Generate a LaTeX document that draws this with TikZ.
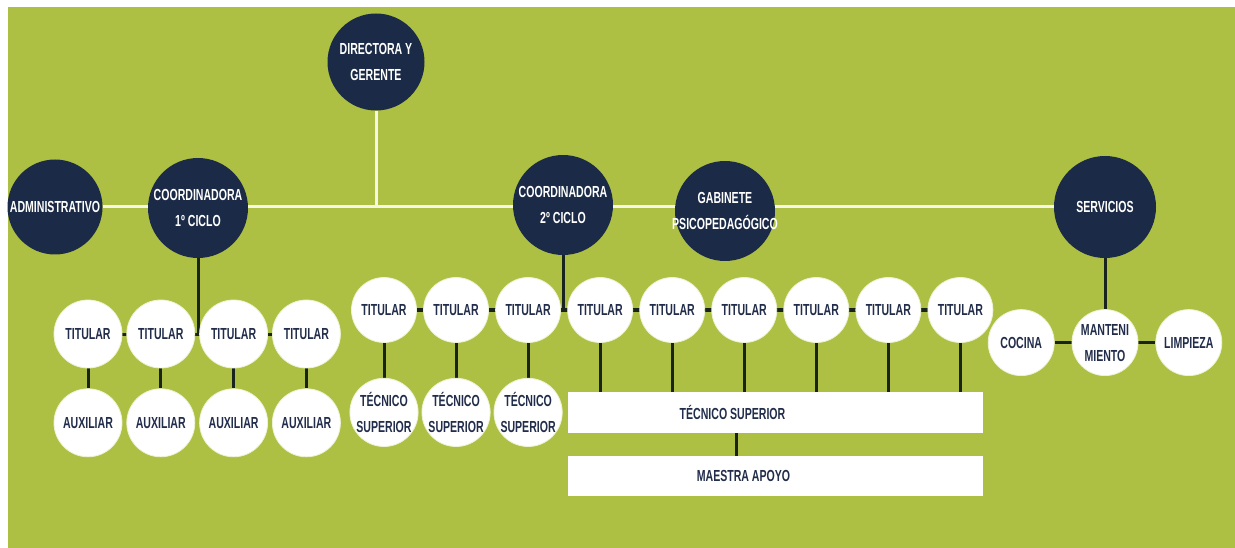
\documentclass[tikz,border=0pt]{standalone}
\usepackage{fontspec}
\setmainfont{Liberation Sans}[FakeStretch=0.66]
\definecolor{colorField}{RGB}{173,192,67}
\definecolor{colorHead}{RGB}{27,43,71}
\definecolor{colorInk}{RGB}{33,45,74}
\definecolor{colorWire}{RGB}{26,36,30}
\definecolor{colorLink}{RGB}{246,246,228}
\definecolor{colorRim}{RGB}{238,242,212}
\usetikzlibrary{positioning}
\pgfdeclarelayer{field}
\pgfdeclarelayer{wires}
\pgfsetlayers{field,wires,main}
\newcommand{\wide}[1]{\makebox[0pt]{#1}}

\begin{document}
\begin{tikzpicture}[x=1pt, y=-1pt,
  every node/.style={font=\bfseries\fontsize{16}{26}\selectfont, align=center, inner sep=0pt},
  head/.style={circle, fill=colorHead, text=white, minimum size=100pt},
  member/.style={circle, fill=white, draw=colorRim, line width=0.8pt, text=colorInk},
  cell/.style={member, minimum size=68pt},
  unit/.style={member, minimum size=65pt},
  panel/.style={rectangle, fill=white, minimum width=415pt, minimum height=41pt},
  panel text/.style={text=colorInk},
  link/.style={colorLink, line width=3pt},
  wire/.style={colorWire, line width=3pt}]
\useasboundingbox (0,0) rectangle (1235,548);
\begin{pgfonlayer}{field}
\fill[white] (0,0) rectangle (1235,548);
\fill[colorField] (8,7) rectangle (1235,548);
\end{pgfonlayer}

% heads
\node[head, minimum size=97pt] (dir) at (376,62) {DIRECTORA Y\\GERENTE};
\node[head, minimum size=95pt] (adm) at (55,207) {\wide{ADMINISTRATIVO}};
\node[head] (c1) at (198,208) {COORDINADORA\\1º CICLO};
\node[head] (c2) at (563,205) {COORDINADORA\\2º CICLO};
\node[head] (gab) at (725,211) {GABINETE\\\wide{PSICOPEDAGÓGICO}};
\node[head, minimum size=102pt] (serv) at (1105,207) {SERVICIOS};

% 1er ciclo
\node[cell] (t1) at (88,334) {TITULAR};
\node[cell, right=4pt of t1] (t2) {TITULAR};
\node[cell, right=4pt of t2] (t3) {TITULAR};
\node[cell, right=4pt of t3] (t4) {TITULAR};
\node[cell, below=20pt of t1] (a1) {AUXILIAR};
\node[cell, below=20pt of t2] (a2) {AUXILIAR};
\node[cell, below=20pt of t3] (a3) {AUXILIAR};
\node[cell, below=20pt of t4] (a4) {AUXILIAR};

% 2o ciclo
\node[unit] (u1) at (384,310) {TITULAR};
\node[unit, right=6.25pt of u1] (u2) {TITULAR};
\node[unit, right=6.25pt of u2] (u3) {TITULAR};
\node[unit, right=6.25pt of u3] (u4) {TITULAR};
\node[unit, right=6.25pt of u4] (u5) {TITULAR};
\node[unit, right=6.25pt of u5] (u6) {TITULAR};
\node[unit, right=6.25pt of u6] (u7) {TITULAR};
\node[unit, right=6.25pt of u7] (u8) {TITULAR};
\node[unit, right=6.25pt of u8] (u9) {TITULAR};
\node[unit, minimum size=66pt, below=35pt of u1] (ts1) {TÉCNICO\\SUPERIOR};
\node[unit, minimum size=66pt, below=35pt of u2] (ts2) {TÉCNICO\\SUPERIOR};
\node[unit, minimum size=66pt, below=35pt of u3] (ts3) {TÉCNICO\\SUPERIOR};
\node[panel, label={[panel text, xshift=-43pt]center:TÉCNICO SUPERIOR}] (ts) at (775.5,412.5) {};
\node[panel, minimum height=40pt, below=23pt of ts, label={[panel text, xshift=-32pt]center:MAESTRA APOYO}] (ma) {};

% servicios
\node[unit, minimum size=66pt, below=51pt of serv] (mant) {MANTENI\\MIENTO};
\node[unit, minimum size=66pt, left=17pt of mant] (coc) {COCINA};
\node[unit, minimum size=66pt, right=17pt of mant] (limp) {LIMPIEZA};

\begin{pgfonlayer}{wires}
\draw[link] (adm) -- (serv);
\draw[link] (dir) -- (dir |- adm);
\draw[wire] (t1) -- (t4);
\draw[wire] (c1) -- (c1 |- t1);
\draw[wire] (t1) -- (a1);
\draw[wire] (t2) -- (a2);
\draw[wire] (t3) -- (a3);
\draw[wire] (t4) -- (a4);
\draw[wire] (u1) -- (u9);
\draw[wire] (c2) -- (c2 |- u1);
\draw[wire] (u1) -- (ts1);
\draw[wire] (u2) -- (ts2);
\draw[wire] (u3) -- (ts3);
\draw[wire] (u4) -- (u4 |- ts.north);
\draw[wire] (u5) -- (u5 |- ts.north);
\draw[wire] (u6) -- (u6 |- ts.north);
\draw[wire] (u7) -- (u7 |- ts.north);
\draw[wire] (u8) -- (u8 |- ts.north);
\draw[wire] (u9) -- (u9 |- ts.north);
\draw[wire] ([xshift=-39pt]ts.south) -- ([xshift=-39pt]ma.north);
\draw[wire] (serv) -- (mant);
\draw[wire] (coc) -- (limp);
\end{pgfonlayer}
\end{tikzpicture}
\end{document}
